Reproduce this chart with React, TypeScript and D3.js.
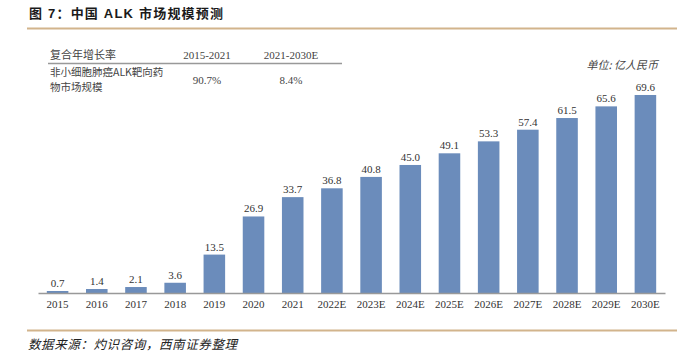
import * as d3 from 'd3'
import { useEffect, useRef } from 'react'

const categories = [
  '2015', '2016', '2017', '2018', '2019', '2020', '2021', '2022E',
  '2023E', '2024E', '2025E', '2026E', '2027E', '2028E', '2029E', '2030E',
]
const values = [0.7, 1.4, 2.1, 3.6, 13.5, 26.9, 33.7, 36.8, 40.8, 45.0, 49.1, 53.3, 57.4, 61.5, 65.6, 69.6]

const tableHeaders = ['复合年增长率', '2015-2021', '2021-2030E']
const tableRowLabel = ['非小细胞肺癌ALK靶向药', '物市场规模']
const tableValues = ['90.7%', '8.4%']

const title = '图 7：中国 ALK 市场规模预测'
const unitLabel = '单位: 亿人民币'
const source = '数据来源：灼识咨询，西南证券整理'

const W = 677
const H = 352
const serif = '"Liberation Serif", "Times New Roman", "Noto Sans CJK SC", serif'
const cjk = '"Noto Sans CJK SC", sans-serif'

const App = () => {
  const ref = useRef<SVGSVGElement>(null)

  useEffect(() => {
    const svg = d3.select(ref.current)
    svg.selectAll('*').remove()

    // header + footer
    svg.append('text')
      .attr('x', 29)
      .attr('y', 18)
      .style('font-family', '"Liberation Sans", "Noto Sans CJK SC", sans-serif')
      .style('font-weight', 'bold')
      .style('font-size', '13px')
      .style('letter-spacing', '1.2px')
      .attr('fill', '#1a1a1a')
      .text(title)

    svg.append('line')
      .attr('x1', 27).attr('x2', W)
      .attr('y1', 28.5).attr('y2', 28.5)
      .attr('stroke', '#d2b48c')
      .attr('stroke-width', 2)

    svg.append('line')
      .attr('x1', 27).attr('x2', W)
      .attr('y1', 330.5).attr('y2', 330.5)
      .attr('stroke', '#d2b48c')
      .attr('stroke-width', 2)

    svg.append('text')
      .attr('x', 28)
      .attr('y', 349)
      .style('font-family', cjk)
      .style('font-style', 'italic')
      .style('font-size', '12.5px')
      .style('letter-spacing', '0.6px')
      .attr('fill', '#222')
      .text(source)

    // chart
    const baseY = 293
    const x = d3.scaleBand<string>()
      .domain(categories)
      .range([38, 665])
      .paddingInner(0.45)
      .paddingOuter(0.225)

    const y = d3.scaleLinear().domain([0, 80]).range([baseY, baseY - 80 * 2.845])

    const g = svg.append('g')

    g.selectAll('.bar')
      .data(values)
      .enter()
      .append('rect')
      .attr('class', 'bar')
      .attr('x', (_d, i) => x(categories[i]) ?? 0)
      .attr('width', x.bandwidth())
      .attr('y', d => y(d))
      .attr('height', d => baseY - y(d))
      .attr('fill', '#6b8cbb')

    g.selectAll('.val')
      .data(values)
      .enter()
      .append('text')
      .attr('class', 'val')
      .attr('x', (_d, i) => (x(categories[i]) ?? 0) + x.bandwidth() / 2)
      .attr('y', d => y(d) - 4)
      .attr('text-anchor', 'middle')
      .style('font-family', serif)
      .style('font-size', '11px')
      .attr('fill', '#333')
      .text(d => d.toFixed(1))

    const axis = g.append('g')
      .attr('transform', `translate(0,${baseY})`)
      .call(d3.axisBottom(x).tickSize(0).tickPadding(7))
    axis.select('.domain').attr('stroke', '#999').attr('stroke-width', 1.5)
    axis.selectAll('text')
      .style('font-family', serif)
      .style('font-size', '11px')
      .attr('fill', '#333')

    svg.append('text')
      .attr('x', 658)
      .attr('y', 69)
      .attr('text-anchor', 'end')
      .style('font-family', cjk)
      .style('font-style', 'italic')
      .style('font-size', '11px')
      .attr('fill', '#444')
      .text(unitLabel)

    // CAGR table
    const colX = [50, 207, 291]
    svg.append('text')
      .attr('x', colX[0]).attr('y', 59)
      .style('font-family', cjk)
      .style('font-size', '11px')
      .attr('fill', '#444')
      .text(tableHeaders[0])
    tableHeaders.slice(1).forEach((h, i) => {
      svg.append('text')
        .attr('x', colX[i + 1]).attr('y', 59)
        .attr('text-anchor', 'middle')
        .style('font-family', serif)
        .style('font-size', '11px')
        .attr('fill', '#444')
        .text(h)
    })
    svg.append('line')
      .attr('x1', 48).attr('x2', 342)
      .attr('y1', 63.5).attr('y2', 63.5)
      .attr('stroke', '#999')
      .attr('stroke-width', 1.5)

    tableRowLabel.forEach((t, i) => {
      svg.append('text')
        .attr('x', colX[0]).attr('y', 75.5 + i * 15)
        .style('font-family', cjk)
        .style('font-size', '10.5px')
        .attr('fill', '#444')
        .text(t)
    })

    tableValues.forEach((v, i) => {
      svg.append('text')
        .attr('x', colX[i + 1]).attr('y', 84)
        .attr('text-anchor', 'middle')
        .style('font-family', serif)
        .style('font-size', '11px')
        .attr('fill', '#444')
        .text(v)
    })
  }, [])

  return (
    <svg
      ref={ref}
      width={W}
      height={H}
      style={{ position: 'absolute', left: 0, top: 0, background: '#fff' }}
    />
  )
}

export default App
